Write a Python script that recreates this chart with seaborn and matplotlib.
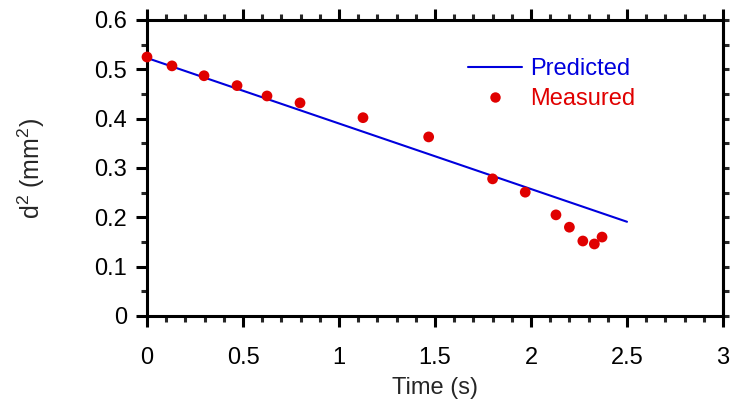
import matplotlib
matplotlib.use("Agg")
import matplotlib.pyplot as plt
import seaborn as sns
import pandas as pd
from matplotlib.ticker import MultipleLocator, NullFormatter
from matplotlib.lines import Line2D

# Data
pred_time = [0.0, 2.5]
pred_d2 = [0.523, 0.191]
meas_time = [0.0, 0.13, 0.297, 0.469, 0.625, 0.797, 1.125, 1.467, 1.80, 1.97, 2.13, 2.20, 2.27, 2.33, 2.37]
meas_d2 = [0.525, 0.507, 0.487, 0.467, 0.446, 0.432, 0.402, 0.363, 0.278, 0.251, 0.205, 0.180, 0.152, 0.146, 0.160]
x_ticks = [0, 0.5, 1, 1.5, 2, 2.5, 3]
x_tick_labels = ["0", "0.5", "1", "1.5", "2", "2.5", "3"]
y_ticks = [0, 0.1, 0.2, 0.3, 0.4, 0.5, 0.6]
y_tick_labels = ["0", "0.1", "0.2", "0.3", "0.4", "0.5", "0.6"]

sns.set_style("ticks")
plt.rcParams["font.family"] = ["Liberation Sans", "DejaVu Sans"]
plt.rcParams["mathtext.fontset"] = "custom"
plt.rcParams["mathtext.rm"] = "Liberation Sans"

BLUE = "#0000dd"
RED = "#e00000"
FS = 17

fig = plt.figure(figsize=(7.3, 4.04), dpi=100)
ax = fig.add_axes([147 / 730, 1 - 316 / 404, 576 / 730, 296 / 404])

pred_df = pd.DataFrame({"t": pred_time, "d2": pred_d2})
meas_df = pd.DataFrame({"t": meas_time, "d2": meas_d2})

sns.lineplot(data=pred_df, x="t", y="d2", ax=ax, color=BLUE, linewidth=1.5, zorder=2)
sns.scatterplot(data=meas_df, x="t", y="d2", ax=ax, color=RED, s=60, edgecolor="none", zorder=3, clip_on=False)

ax.set_xlim(0, 3)
ax.set_ylim(0, 0.6)
ax.set_xticks(x_ticks)
ax.set_xticklabels(x_tick_labels)
ax.set_yticks(y_ticks)
ax.set_yticklabels(y_tick_labels)
ax.xaxis.set_minor_locator(MultipleLocator(0.1))
ax.yaxis.set_minor_locator(MultipleLocator(0.05))

for sp in ax.spines.values():
    sp.set_linewidth(2.2)
    sp.set_color("black")
    sp.set_visible(True)

ax.tick_params(which="major", direction="out", length=8, width=2.2, labelsize=FS,
               colors="black", top=True, bottom=True, left=True, right=False)
ax.tick_params(axis="x", which="major", pad=14.4)
ax.tick_params(axis="y", which="major", pad=6.5)
ax.tick_params(which="minor", direction="out", length=4.3, width=2.2,
               top=True, bottom=True, left=True, right=False)

# right side: uniform short ticks every 0.05
sec = ax.secondary_yaxis("right")
sec.yaxis.set_major_locator(MultipleLocator(0.05))
sec.yaxis.set_major_formatter(NullFormatter())
sec.tick_params(direction="out", length=4.3, width=2.2)
sec.spines["right"].set_linewidth(2.2)

ax.set_xlabel("Time (s)", fontsize=FS)
ax.xaxis.set_label_coords(0.5, (316 - 377) / 296)
ax.set_ylabel(r"d$^{2}$ (mm$^{2}$)", fontsize=18)
ax.yaxis.set_label_coords((47 - 147) / 576, 0.5)

handles = [
    Line2D([], [], color=BLUE, linewidth=1.5),
    Line2D([], [], color=RED, marker="o", linestyle="none", markersize=7.5, markeredgewidth=0),
]
leg = ax.legend(handles, ["Predicted", "Measured"], loc="upper left",
                bbox_to_anchor=((468 - 147) / 576, (316 - 58) / 296),
                frameon=False, fontsize=FS, handlelength=2.29, handletextpad=0.34,
                borderpad=0, borderaxespad=0, labelspacing=0.35)
for txt, c in zip(leg.get_texts(), [BLUE, RED]):
    txt.set_color(c)

fig.savefig("out.png", dpi=100)
